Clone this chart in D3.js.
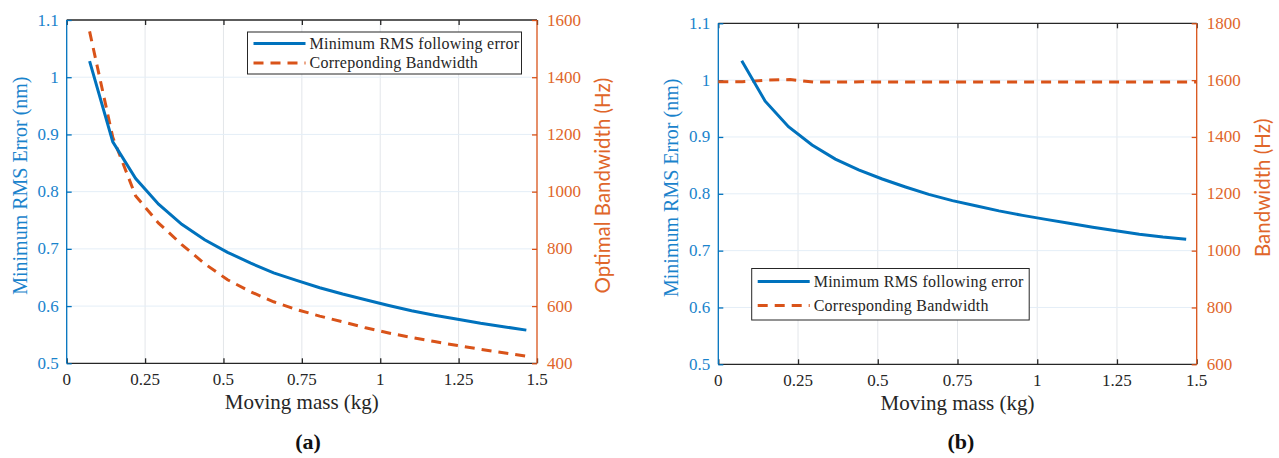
<!DOCTYPE html>
<html>
<head>
<meta charset="utf-8">
<script src="https://cdn.jsdelivr.net/npm/d3@7"></script>
<style>
  body { margin: 0; background: #fff; }
  svg { display: block; }
</style>
</head>
<body>
<div id="chart"></div>
<script>
// ---- data ----
const massA = [0.073, 0.147, 0.22, 0.293, 0.367, 0.44, 0.513, 0.587, 0.66, 0.733,
               0.807, 0.88, 0.953, 1.027, 1.1, 1.173, 1.247, 1.32, 1.393, 1.466];
const rmsA  = [1.028, 0.887, 0.823, 0.778, 0.743, 0.716, 0.694, 0.675, 0.658, 0.645,
               0.632, 0.621, 0.611, 0.601, 0.592, 0.584, 0.577, 0.570, 0.564, 0.558];
const bwA   = [1560, 1190, 985, 890, 815, 748, 692, 650, 615, 588,
               565, 545, 524, 506, 490, 476, 462, 449, 437, 425];

const massB = [0.0735, 0.147, 0.22, 0.294, 0.367, 0.44, 0.514, 0.587, 0.66, 0.734,
               0.807, 0.88, 0.954, 1.027, 1.1, 1.174, 1.247, 1.32, 1.394, 1.467];
const rmsB  = [1.034, 0.963, 0.918, 0.886, 0.861, 0.842, 0.826, 0.812, 0.799, 0.788,
               0.779, 0.770, 0.762, 0.755, 0.748, 0.741, 0.735, 0.729, 0.724, 0.720];
const massBwB = [0, 0.075, 0.15, 0.225, 0.3, 0.375, 0.45, 0.6, 0.75, 0.9, 1.05, 1.2, 1.35, 1.5];
const bwB     = [1594, 1594, 1600, 1602, 1593, 1593, 1594, 1593, 1593, 1593, 1593, 1593, 1593, 1593];

const xTicks = [0, 0.25, 0.5, 0.75, 1, 1.25, 1.5];
const xTickLabels = ['0', '0.25', '0.5', '0.75', '1', '1.25', '1.5'];
const yLeftTicks = [0.5, 0.6, 0.7, 0.8, 0.9, 1, 1.1];
const yRightTicksA = [400, 600, 800, 1000, 1200, 1400, 1600];
const yRightTicksB = [600, 800, 1000, 1200, 1400, 1600, 1800];

const blue = '#0072BD';
const orange = '#D95319';
const blueText = '#1a83cc';
const orangeText = '#e0662a';
const serif = '"Liberation Serif", "DejaVu Serif", serif';
const sans = 'Lato, "Open Sans", sans-serif';

const svg = d3.select('#chart').append('svg')
    .attr('width', 1279)
    .attr('height', 458);

function drawPanel(p) {
    const x = d3.scaleLinear().domain([0, 1.5]).range([p.left, p.right]);
    const yL = d3.scaleLinear().domain([0.5, 1.1]).range([p.bottom, p.top]);
    const yR = d3.scaleLinear().domain(p.rightDomain).range([p.bottom, p.top]);
    const g = svg.append('g');
    const midY = (p.top + p.bottom) / 2 - 6;

    // grid
    g.append('g').selectAll('line').data(xTicks.slice(1, -1)).join('line')
        .attr('x1', d => x(d)).attr('x2', d => x(d))
        .attr('y1', p.top).attr('y2', p.bottom)
        .attr('stroke', '#e3e6ea').attr('stroke-width', 1);
    g.append('g').selectAll('line').data(yLeftTicks.slice(1, -1)).join('line')
        .attr('x1', p.left).attr('x2', p.right)
        .attr('y1', d => yL(d)).attr('y2', d => yL(d))
        .attr('stroke', '#e4eef7').attr('stroke-width', 1);

    // x axes (bottom + top, ticks inward)
    const xb = g.append('g').attr('transform', `translate(0,${p.bottom})`)
        .call(d3.axisTop(x).tickValues(xTicks).tickSize(5).tickFormat(''));
    const xt = g.append('g').attr('transform', `translate(0,${p.top})`)
        .call(d3.axisBottom(x).tickValues(xTicks).tickSize(5).tickFormat(''));
    [xb, xt].forEach(a => {
        a.selectAll('path,line').attr('stroke', '#262626').attr('stroke-width', 1.3);
        a.select('.domain').attr('d', `M${p.left},0H${p.right}`);
    });
    g.append('g').selectAll('text').data(xTicks).join('text')
        .attr('x', d => x(d)).attr('y', p.bottom + 22)
        .attr('text-anchor', 'middle')
        .attr('font-family', serif).attr('font-size', 17).attr('fill', '#262626')
        .text((d, i) => xTickLabels[i]);

    // left axis
    const al = g.append('g').attr('transform', `translate(${p.left},0)`)
        .call(d3.axisRight(yL).tickValues(yLeftTicks).tickSize(5).tickFormat(''));
    al.selectAll('path,line').attr('stroke', blue).attr('stroke-width', 1.3);
    al.select('.domain').attr('d', `M0,${p.top}V${p.bottom}`);
    g.append('g').selectAll('text').data(yLeftTicks).join('text')
        .attr('x', p.left - 8).attr('y', d => yL(d) + 5.5)
        .attr('text-anchor', 'end')
        .attr('font-family', serif).attr('font-size', 17).attr('fill', blueText)
        .text(d => d3.format('~g')(d));

    // right axis
    const ar = g.append('g').attr('transform', `translate(${p.right},0)`)
        .call(d3.axisLeft(yR).tickValues(p.rightTicks).tickSize(5).tickFormat(''));
    ar.selectAll('path,line').attr('stroke', orange).attr('stroke-width', 1.3);
    ar.select('.domain').attr('d', `M0,${p.top}V${p.bottom}`);
    g.append('g').selectAll('text').data(p.rightTicks).join('text')
        .attr('x', p.right + 10).attr('y', d => yR(d) + 5.5)
        .attr('text-anchor', 'start')
        .attr('font-family', serif).attr('font-size', 17).attr('fill', orangeText)
        .text(d => d);

    // titles
    g.append('text')
        .attr('x', (p.left + p.right) / 2).attr('y', p.bottom + 46)
        .attr('text-anchor', 'middle')
        .attr('font-family', serif).attr('font-size', 21).attr('fill', '#262626')
        .text('Moving mass (kg)');
    g.append('text')
        .attr('transform', `translate(${p.left - 40},${midY}) rotate(-90)`)
        .attr('text-anchor', 'middle')
        .attr('font-family', serif).attr('font-size', 20).attr('fill', blueText)
        .text('Minimum RMS Error (nm)');
    g.append('text')
        .attr('transform', `translate(${p.right + 73},${midY}) rotate(-90)`)
        .attr('text-anchor', 'middle')
        .attr('font-family', sans).attr('font-size', 20.5).attr('fill', orangeText)
        .text(p.rightTitle);

    // lines
    const lineL = d3.line().x(d => x(d[0])).y(d => yL(d[1]));
    const lineR = d3.line().x(d => x(d[0])).y(d => yR(d[1]));
    g.append('path')
        .datum(d3.zip(p.bwX, p.bw))
        .attr('d', lineR)
        .attr('fill', 'none').attr('stroke', orange).attr('stroke-width', 3)
        .attr('stroke-dasharray', '10,7');
    g.append('path')
        .datum(d3.zip(p.rmsX, p.rms))
        .attr('d', lineL)
        .attr('fill', 'none').attr('stroke', blue).attr('stroke-width', 3);

    // legend
    const L = p.legend;
    const lg = g.append('g').attr('transform', `translate(${L.x},${L.y})`);
    lg.append('rect')
        .attr('width', L.w).attr('height', L.h)
        .attr('fill', '#fff').attr('stroke', '#262626').attr('stroke-width', 1);
    const items = [
        { label: 'Minimum RMS following error', color: blue, dash: null },
        { label: L.second, color: orange, dash: '10,7' }
    ];
    items.forEach((it, i) => {
        const cy = L.row0 + i * L.rowGap;
        lg.append('line')
            .attr('x1', 6).attr('x2', 58).attr('y1', cy).attr('y2', cy)
            .attr('stroke', it.color).attr('stroke-width', 3)
            .attr('stroke-dasharray', it.dash);
        lg.append('text')
            .attr('x', 62).attr('y', cy + 5)
            .attr('font-family', serif).attr('font-size', 16)
            .attr('letter-spacing', 0.25).attr('fill', '#262626')
            .text(it.label);
    });

    // panel label
    g.append('text')
        .attr('x', p.labelX).attr('y', 449)
        .attr('text-anchor', 'middle')
        .attr('font-family', serif).attr('font-size', 22).attr('font-weight', 'bold')
        .attr('fill', '#111')
        .text(p.label);
}

drawPanel({
    left: 66.7, right: 537, top: 20, bottom: 363.3,
    rightDomain: [400, 1600], rightTicks: yRightTicksA,
    rightTitle: 'Optimal Bandwidth (Hz)',
    rmsX: massA, rms: rmsA, bwX: massA, bw: bwA,
    legend: { x: 247.5, y: 32, w: 274, h: 42, row0: 11.5, rowGap: 19.5,
              second: 'Correponding Bandwidth' },
    label: '(a)', labelX: 308
});

drawPanel({
    left: 718.3, right: 1196.7, top: 23.3, bottom: 364.3,
    rightDomain: [600, 1800], rightTicks: yRightTicksB,
    rightTitle: 'Bandwidth (Hz)',
    rmsX: massB, rms: rmsB, bwX: massBwB, bw: bwB,
    legend: { x: 751.7, y: 268.5, w: 277.5, h: 51.5, row0: 13, rowGap: 24,
              second: 'Corresponding Bandwidth' },
    label: '(b)', labelX: 961
});
</script>
</body>
</html>
